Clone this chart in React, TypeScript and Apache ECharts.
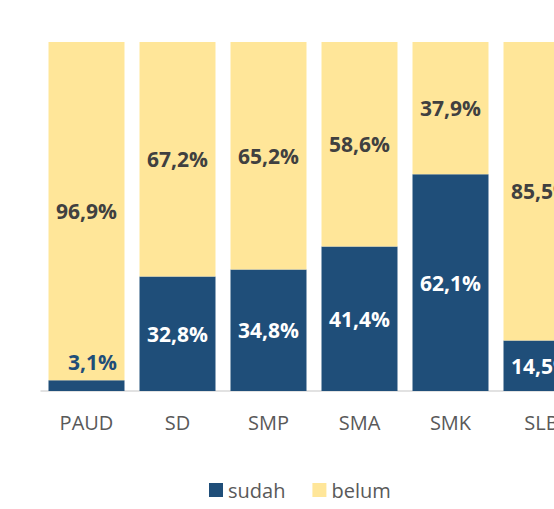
import React, { useEffect, useRef } from "react";
import * as echarts from "echarts";

const categories = ["PAUD", "SD", "SMP", "SMA", "SMK", "SLB"];
const sudah = [3.1, 32.8, 34.8, 41.4, 62.1, 14.5];
const belum = [96.9, 67.2, 65.2, 58.6, 37.9, 85.5];

const BLUE = "#1F4E79";
const YELLOW = "#FFE699";
const FONT = "'Open Sans', 'Noto Sans', sans-serif";

const fmt = (v: number) => v.toFixed(1).replace(".", ",") + "%";

export default function App() {
  const ref = useRef<HTMLDivElement>(null);
  useEffect(() => {
    if (!ref.current) return;
    const chart = echarts.init(ref.current, undefined, { renderer: "svg" });
    chart.setOption({
      animation: false,
      backgroundColor: "#ffffff",
      textStyle: { fontFamily: FONT },
      grid: { left: 41, right: 13, top: 42, height: 349, containLabel: false },
      legend: {
        left: 204,
        top: 475,
        itemWidth: 14,
        itemHeight: 14,
        itemGap: 27,
        icon: "rect",
        textStyle: { fontSize: 20, color: "#595959", fontFamily: FONT },
        data: ["sudah", "belum"],
      },
      xAxis: {
        type: "category",
        data: categories,
        axisLine: { lineStyle: { color: "#D9D9D9", width: 1.5 } },
        axisTick: { show: false },
        axisLabel: { fontSize: 20, color: "#595959", margin: 21, fontFamily: FONT },
      },
      yAxis: {
        type: "value",
        min: 0,
        max: 100,
        show: false,
        splitLine: { show: false },
      },
      series: [
        {
          name: "sudah",
          type: "bar",
          stack: "total",
          barWidth: "83.5%",
          itemStyle: { color: BLUE },
          data: sudah.map((v, i) =>
            i === 0
              ? {
                  value: v,
                  label: {
                    position: "top",
                    color: BLUE,
                    distance: 8,
                    offset: [6, 0],
                  },
                }
              : v
          ),
          label: {
            show: true,
            position: "inside",
            color: "#ffffff",
            fontWeight: "bold",
            fontSize: 21,
            fontFamily: FONT,
            formatter: (p: any) => fmt(p.value),
          },
        },
        {
          name: "belum",
          type: "bar",
          stack: "total",
          barWidth: "83.5%",
          itemStyle: { color: YELLOW },
          data: belum,
          label: {
            show: true,
            position: "inside",
            color: "#404040",
            fontWeight: "bold",
            fontSize: 21,
            fontFamily: FONT,
            formatter: (p: any) => fmt(p.value),
          },
        },
      ],
    });
    return () => chart.dispose();
  }, []);
  return (
    <div
      style={{
        position: "fixed",
        left: 0,
        top: 0,
        width: 554,
        height: 509,
        overflow: "hidden",
        background: "#fff",
      }}
    >
      <div ref={ref} style={{ width: 600, height: 509 }} />
    </div>
  );
}
